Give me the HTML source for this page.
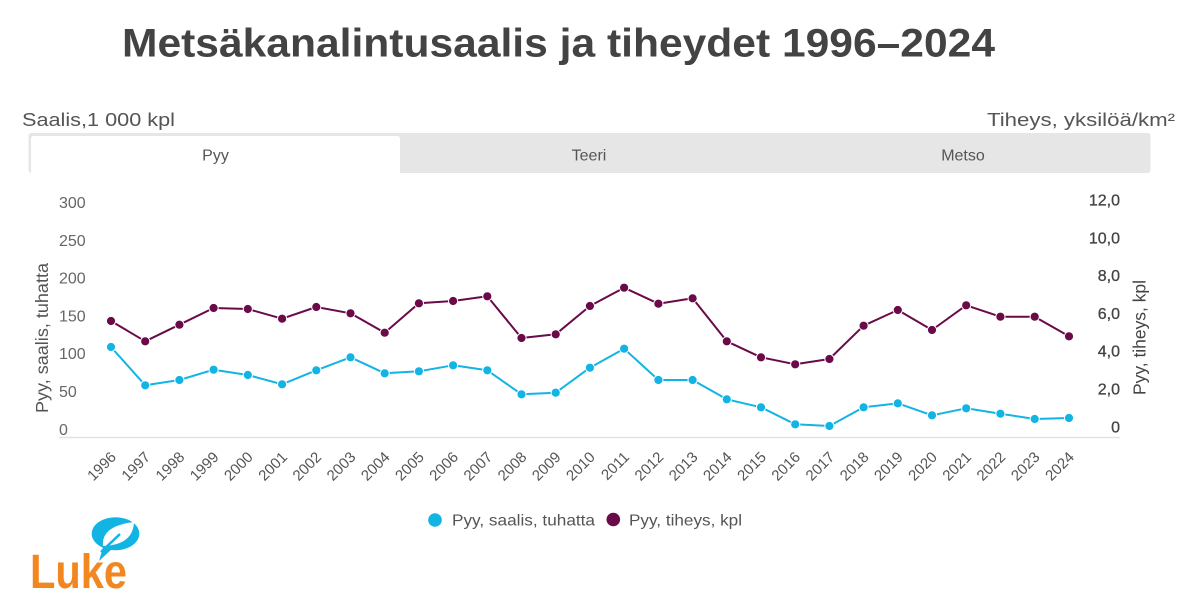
<!DOCTYPE html>
<html>
<head>
<meta charset="utf-8">
<style>
  html, body { margin: 0; padding: 0; background: #ffffff; }
  body { width: 1200px; height: 598px; overflow: hidden; }
  svg { display: block; font-family: "Liberation Sans", "DejaVu Sans", sans-serif; }
</style>
</head>
<body>
<svg width="1200" height="598" viewBox="0 0 1200 598" xmlns="http://www.w3.org/2000/svg">
  <rect x="0" y="0" width="1200" height="598" fill="#ffffff"/>

  <!-- Title -->
  <text x="122" y="56.5" font-size="40" font-weight="bold" fill="#434343" textLength="873" lengthAdjust="spacingAndGlyphs">Metsäkanalintusaalis ja tiheydet 1996–2024</text>

  <!-- Units -->
  <text x="22" y="126" font-size="18" fill="#555555" textLength="153" lengthAdjust="spacingAndGlyphs">Saalis,1 000 kpl</text>
  <text x="987" y="126" font-size="18" fill="#555555" textLength="188" lengthAdjust="spacingAndGlyphs">Tiheys, yksilöä/km²</text>

  <!-- Tabs -->
  <rect x="28.5" y="133" width="1122" height="40" rx="3" ry="3" fill="#e6e6e6"/>
  <path d="M31 173 L31 139 Q31 136 34 136 L397 136 Q400 136 400 139 L400 173 Z" fill="#ffffff"/>
  <text x="215.5" y="160.5" font-size="16" fill="#555555" text-anchor="middle">Pyy</text>
  <text x="589" y="160.5" font-size="16" fill="#555555" text-anchor="middle">Teeri</text>
  <text x="963" y="160.5" font-size="16" fill="#555555" text-anchor="middle">Metso</text>

  <!-- Left axis labels -->
  <g font-size="16" fill="#666666">
    <text x="59" y="208">300</text>
    <text x="59" y="245.8">250</text>
    <text x="59" y="283.6">200</text>
    <text x="59" y="321.4">150</text>
    <text x="59" y="359.2">100</text>
    <text x="59" y="397">50</text>
    <text x="59" y="434.8">0</text>
  </g>

  <!-- Right axis labels -->
  <g font-size="16" fill="#444444" text-anchor="end" stroke="#444444" stroke-width="0.3">
    <text x="1120" y="205.5">12,0</text>
    <text x="1120" y="243.3">10,0</text>
    <text x="1120" y="281.1">8,0</text>
    <text x="1120" y="318.9">6,0</text>
    <text x="1120" y="356.7">4,0</text>
    <text x="1120" y="394.5">2,0</text>
    <text x="1120" y="432.3">0</text>
  </g>

  <!-- Axis titles -->
  <text transform="translate(48,338) rotate(-90)" font-size="17.5" fill="#555555" text-anchor="middle" textLength="150" lengthAdjust="spacingAndGlyphs">Pyy, saalis, tuhatta</text>
  <text transform="translate(1145.5,337.5) rotate(-90)" font-size="17.5" fill="#444444" text-anchor="middle" textLength="115" lengthAdjust="spacingAndGlyphs">Pyy, tiheys, kpl</text>

  <!-- X axis line -->
  <line x1="59" y1="437.5" x2="1120" y2="437.5" stroke="#e3e3e3" stroke-width="1.6"/>

  <!-- X labels -->
  <g font-size="15" fill="#555555" text-anchor="end">
    <text transform="translate(117,458) rotate(-45)">1996</text>
    <text transform="translate(151.2,458) rotate(-45)">1997</text>
    <text transform="translate(185.4,458) rotate(-45)">1998</text>
    <text transform="translate(219.6,458) rotate(-45)">1999</text>
    <text transform="translate(253.8,458) rotate(-45)">2000</text>
    <text transform="translate(288.1,458) rotate(-45)">2001</text>
    <text transform="translate(322.3,458) rotate(-45)">2002</text>
    <text transform="translate(356.5,458) rotate(-45)">2003</text>
    <text transform="translate(390.7,458) rotate(-45)">2004</text>
    <text transform="translate(424.9,458) rotate(-45)">2005</text>
    <text transform="translate(459.1,458) rotate(-45)">2006</text>
    <text transform="translate(493.3,458) rotate(-45)">2007</text>
    <text transform="translate(527.5,458) rotate(-45)">2008</text>
    <text transform="translate(561.7,458) rotate(-45)">2009</text>
    <text transform="translate(595.9,458) rotate(-45)">2010</text>
    <text transform="translate(630.1,458) rotate(-45)">2011</text>
    <text transform="translate(664.4,458) rotate(-45)">2012</text>
    <text transform="translate(698.6,458) rotate(-45)">2013</text>
    <text transform="translate(732.8,458) rotate(-45)">2014</text>
    <text transform="translate(767,458) rotate(-45)">2015</text>
    <text transform="translate(801.2,458) rotate(-45)">2016</text>
    <text transform="translate(835.4,458) rotate(-45)">2017</text>
    <text transform="translate(869.6,458) rotate(-45)">2018</text>
    <text transform="translate(903.8,458) rotate(-45)">2019</text>
    <text transform="translate(938,458) rotate(-45)">2020</text>
    <text transform="translate(972.2,458) rotate(-45)">2021</text>
    <text transform="translate(1006.4,458) rotate(-45)">2022</text>
    <text transform="translate(1040.7,458) rotate(-45)">2023</text>
    <text transform="translate(1075,458) rotate(-45)">2024</text>
  </g>

  <!-- Purple series (tiheys) -->
  <polyline fill="none" stroke="#6b0a48" stroke-width="2" stroke-linejoin="round"
    points="111,321 145.2,341.3 179.4,324.7 213.6,308 247.8,309 282.1,318.7 316.3,307 350.5,313.3 384.7,332.7 418.9,303.3 453.1,301 487.3,296.3 521.5,338 555.7,334.3 589.9,306 624.1,287.7 658.4,303.7 692.6,298.3 726.8,341.3 761,357.3 795.2,364.3 829.4,359 863.6,325.7 897.8,310 932,330 966.2,305.3 1000.4,316.7 1034.7,316.7 1069,336.3"/>
  <g fill="#6b0a48" stroke="#ffffff" stroke-width="1">
    <circle cx="111" cy="321" r="4.6"/>
    <circle cx="145.2" cy="341.3" r="4.6"/>
    <circle cx="179.4" cy="324.7" r="4.6"/>
    <circle cx="213.6" cy="308" r="4.6"/>
    <circle cx="247.8" cy="309" r="4.6"/>
    <circle cx="282.1" cy="318.7" r="4.6"/>
    <circle cx="316.3" cy="307" r="4.6"/>
    <circle cx="350.5" cy="313.3" r="4.6"/>
    <circle cx="384.7" cy="332.7" r="4.6"/>
    <circle cx="418.9" cy="303.3" r="4.6"/>
    <circle cx="453.1" cy="301" r="4.6"/>
    <circle cx="487.3" cy="296.3" r="4.6"/>
    <circle cx="521.5" cy="338" r="4.6"/>
    <circle cx="555.7" cy="334.3" r="4.6"/>
    <circle cx="589.9" cy="306" r="4.6"/>
    <circle cx="624.1" cy="287.7" r="4.6"/>
    <circle cx="658.4" cy="303.7" r="4.6"/>
    <circle cx="692.6" cy="298.3" r="4.6"/>
    <circle cx="726.8" cy="341.3" r="4.6"/>
    <circle cx="761" cy="357.3" r="4.6"/>
    <circle cx="795.2" cy="364.3" r="4.6"/>
    <circle cx="829.4" cy="359" r="4.6"/>
    <circle cx="863.6" cy="325.7" r="4.6"/>
    <circle cx="897.8" cy="310" r="4.6"/>
    <circle cx="932" cy="330" r="4.6"/>
    <circle cx="966.2" cy="305.3" r="4.6"/>
    <circle cx="1000.4" cy="316.7" r="4.6"/>
    <circle cx="1034.7" cy="316.7" r="4.6"/>
    <circle cx="1069" cy="336.3" r="4.6"/>
  </g>

  <!-- Cyan series (saalis) -->
  <polyline fill="none" stroke="#12b4e4" stroke-width="2" stroke-linejoin="round"
    points="111,347 145.2,385.3 179.4,380 213.6,369.7 247.8,375 282.1,384.3 316.3,370.3 350.5,357.3 384.7,373.3 418.9,371.3 453.1,365.3 487.3,370.3 521.5,394.3 555.7,392.7 589.9,367.7 624.1,348.7 658.4,380 692.6,380 726.8,399.3 761,407.3 795.2,424.3 829.4,426 863.6,407.3 897.8,403.3 932,415.3 966.2,408.3 1000.4,413.7 1034.7,419 1069,418"/>
  <g fill="#12b4e4" stroke="#ffffff" stroke-width="1">
    <circle cx="111" cy="347" r="4.6"/>
    <circle cx="145.2" cy="385.3" r="4.6"/>
    <circle cx="179.4" cy="380" r="4.6"/>
    <circle cx="213.6" cy="369.7" r="4.6"/>
    <circle cx="247.8" cy="375" r="4.6"/>
    <circle cx="282.1" cy="384.3" r="4.6"/>
    <circle cx="316.3" cy="370.3" r="4.6"/>
    <circle cx="350.5" cy="357.3" r="4.6"/>
    <circle cx="384.7" cy="373.3" r="4.6"/>
    <circle cx="418.9" cy="371.3" r="4.6"/>
    <circle cx="453.1" cy="365.3" r="4.6"/>
    <circle cx="487.3" cy="370.3" r="4.6"/>
    <circle cx="521.5" cy="394.3" r="4.6"/>
    <circle cx="555.7" cy="392.7" r="4.6"/>
    <circle cx="589.9" cy="367.7" r="4.6"/>
    <circle cx="624.1" cy="348.7" r="4.6"/>
    <circle cx="658.4" cy="380" r="4.6"/>
    <circle cx="692.6" cy="380" r="4.6"/>
    <circle cx="726.8" cy="399.3" r="4.6"/>
    <circle cx="761" cy="407.3" r="4.6"/>
    <circle cx="795.2" cy="424.3" r="4.6"/>
    <circle cx="829.4" cy="426" r="4.6"/>
    <circle cx="863.6" cy="407.3" r="4.6"/>
    <circle cx="897.8" cy="403.3" r="4.6"/>
    <circle cx="932" cy="415.3" r="4.6"/>
    <circle cx="966.2" cy="408.3" r="4.6"/>
    <circle cx="1000.4" cy="413.7" r="4.6"/>
    <circle cx="1034.7" cy="419" r="4.6"/>
    <circle cx="1069" cy="418" r="4.6"/>
  </g>

  <!-- Legend -->
  <circle cx="435" cy="520" r="6.8" fill="#12b4e4"/>
  <text x="452" y="525.5" font-size="16" fill="#555555" textLength="143" lengthAdjust="spacingAndGlyphs">Pyy, saalis, tuhatta</text>
  <circle cx="613.3" cy="519.5" r="6.8" fill="#6b0a48"/>
  <text x="629" y="525.5" font-size="16" fill="#555555" textLength="113" lengthAdjust="spacingAndGlyphs">Pyy, tiheys, kpl</text>

  <!-- Luke logo -->
  <ellipse cx="115.5" cy="533.7" rx="23.8" ry="16.5" fill="#12b4e4"/>
  <path d="M104 544 L99 561 L113 548 Z" fill="#12b4e4"/>
  <path d="M103 546 Q101 526 134 522 Q133 545 103 546 Z" fill="#ffffff"/>
  <path d="M101 552 L120 534" stroke="#12b4e4" stroke-width="2.5" fill="none"/>
  <text x="30" y="588" font-size="48" font-weight="bold" fill="#f2861f" textLength="97" lengthAdjust="spacingAndGlyphs">Luke</text>
</svg>
</body>
</html>
